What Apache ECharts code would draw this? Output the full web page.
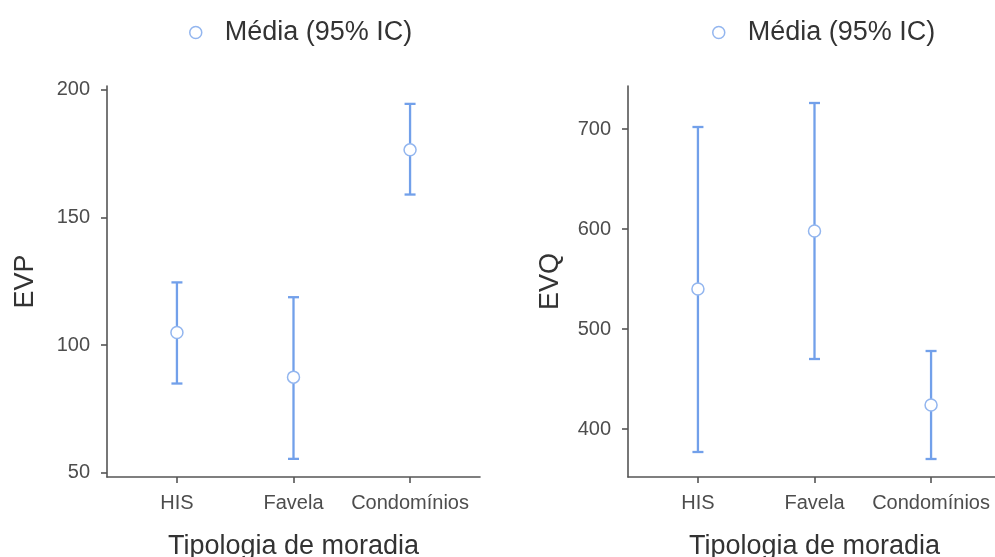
<!DOCTYPE html>
<html>
<head>
<meta charset="utf-8">
<script src="https://cdn.jsdelivr.net/npm/echarts@6/dist/echarts.min.js"></script>
<style>
  html, body { margin: 0; padding: 0; background: #fff; }
  #main { width: 995px; height: 557px; }
</style>
</head>
<body>
<div id="main"></div>
<script>
var chart = echarts.init(document.getElementById('main'));

// categories and values
var categories = ['HIS', 'Favela', 'Condomínios'];

var evpMean = [105, 87.5, 176.5];
var evpLow = [85, 55.5, 159];
var evpHigh = [124.6, 118.8, 194.5];

var evqMean = [540, 598, 424];
var evqLow = [377, 470, 370];
var evqHigh = [702, 726, 478];

var evpTicks = [50, 100, 150, 200];
var evqTicks = [400, 500, 600, 700];

var blue = '#72a0ea';
var ring = '#93b6ef';
var legendName = 'Média (95% IC)';
var font = 'Liberation Sans, Arial, sans-serif';

function meanData(vals) {
    return vals.map(function (v, i) { return [i, v]; });
}
function barData(lo, hi) {
    return lo.map(function (v, i) { return [i, v, hi[i]]; });
}

// vertical interval with small caps at both ends
function renderBar(params, api) {
    var x = api.value(0);
    var p1 = api.coord([x, api.value(1)]);
    var p2 = api.coord([x, api.value(2)]);
    var half = 5.5;
    var style = { stroke: blue, lineWidth: 2.3 };
    return {
        type: 'group',
        children: [
            { type: 'line', shape: { x1: p1[0], y1: p1[1], x2: p2[0], y2: p2[1] }, style: style },
            { type: 'line', shape: { x1: p1[0] - half, y1: p1[1], x2: p1[0] + half, y2: p1[1] }, style: style },
            { type: 'line', shape: { x1: p2[0] - half, y1: p2[1], x2: p2[0] + half, y2: p2[1] }, style: style }
        ]
    };
}

function xAxis(idx) {
    return {
        type: 'value',
        gridIndex: idx,
        min: -0.6,
        max: 2.6,
        name: 'Tipologia de moradia',
        nameLocation: 'middle',
        nameGap: 56,
        nameTextStyle: { fontSize: 27, color: '#333', fontFamily: font },
        splitLine: { show: false },
        axisLine: { onZero: false, lineStyle: { color: '#555', width: 1.6 } },
        axisTick: { show: true, length: 6, customValues: [0, 1, 2], lineStyle: { color: '#555', width: 1.6 } },
        axisLabel: {
            customValues: [0, 1, 2],
            margin: 16,
            fontSize: 20,
            color: '#4d4d4d',
            fontFamily: font,
            formatter: function (v) { return categories[Math.round(v)]; }
        }
    };
}

function yAxis(idx, name, gap, min, max, ticks) {
    return {
        type: 'value',
        gridIndex: idx,
        min: min,
        max: max,
        name: name,
        nameLocation: 'middle',
        nameGap: gap,
        nameRotate: 90,
        nameTextStyle: { fontSize: 27, color: '#333', fontFamily: font },
        splitLine: { show: false },
        axisLine: { show: true, onZero: false, lineStyle: { color: '#555', width: 1.6 } },
        axisTick: { show: true, length: 6, customValues: ticks, lineStyle: { color: '#555', width: 1.6 } },
        axisLabel: { customValues: ticks, margin: 17, fontSize: 20, color: '#4d4d4d', fontFamily: font }
    };
}

var legendItem = {
    name: legendName,
    icon: 'circle',
    itemStyle: { color: '#fff', borderColor: ring, borderWidth: 1.5 }
};

function legend(left) {
    return {
        left: left, top: 14, itemWidth: 12, itemHeight: 12,
        data: [legendItem],
        textStyle: { fontSize: 27, color: '#333', fontFamily: font, padding: [0, 0, 0, 18] }
    };
}

var option = {
    backgroundColor: '#fff',
    animation: false,
    legend: [legend(184), legend(707)],
    grid: [
        { left: 107, top: 86, right: 515, bottom: 80, outerBoundsMode: 'none' },
        { left: 628, top: 86, right: -6, bottom: 80, outerBoundsMode: 'none' }
    ],
    xAxis: [xAxis(0), xAxis(1)],
    yAxis: [
        yAxis(0, 'EVP', 68, 48.4, 201.5, evpTicks),
        yAxis(1, 'EVQ', 64, 352, 743, evqTicks)
    ],
    series: [
        {
            name: 'ic-evp', type: 'custom', xAxisIndex: 0, yAxisIndex: 0,
            renderItem: renderBar, data: barData(evpLow, evpHigh), z: 2
        },
        {
            name: legendName, type: 'scatter', xAxisIndex: 0, yAxisIndex: 0,
            symbol: 'circle', symbolSize: 12,
            itemStyle: { color: '#fff', borderColor: ring, borderWidth: 1.5, opacity: 1 },
            data: meanData(evpMean), z: 3
        },
        {
            name: 'ic-evq', type: 'custom', xAxisIndex: 1, yAxisIndex: 1,
            renderItem: renderBar, data: barData(evqLow, evqHigh), z: 2
        },
        {
            name: legendName, type: 'scatter', xAxisIndex: 1, yAxisIndex: 1,
            symbol: 'circle', symbolSize: 12,
            itemStyle: { color: '#fff', borderColor: ring, borderWidth: 1.5, opacity: 1 },
            data: meanData(evqMean), z: 3
        }
    ]
};

chart.setOption(option);
</script>
</body>
</html>
